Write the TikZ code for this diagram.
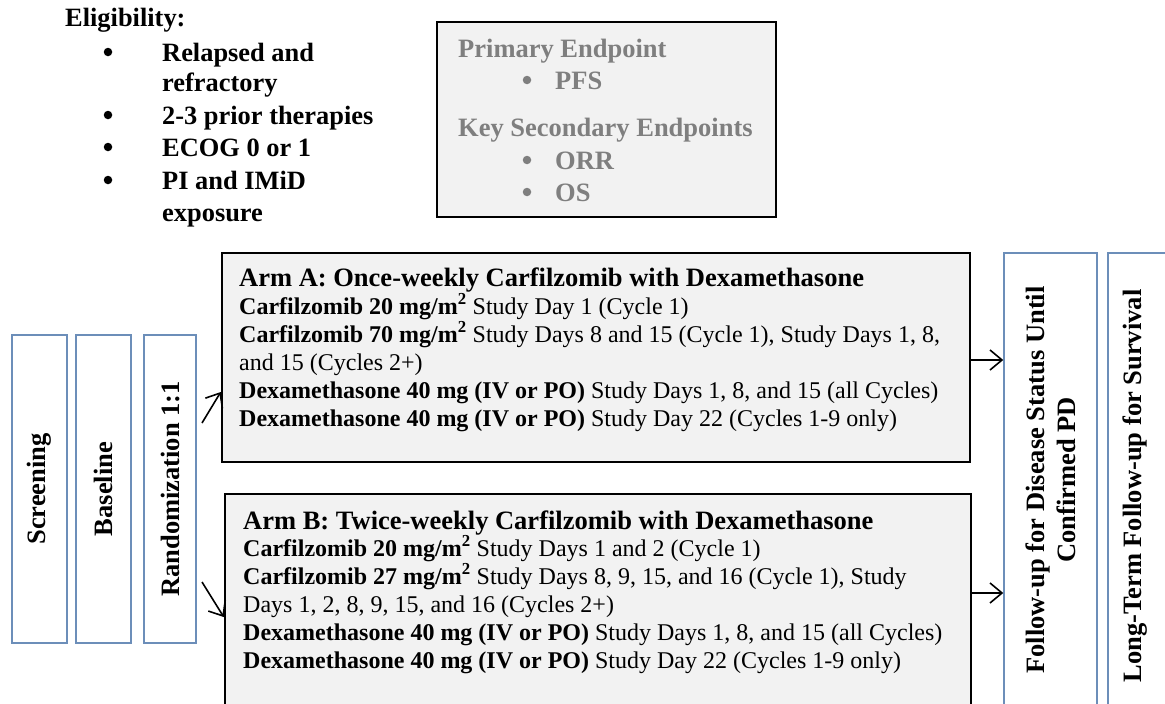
\documentclass[tikz,border=0pt]{standalone}
\usepackage{fontspec}
\setmainfont{Liberation Serif}
\usetikzlibrary{arrows.meta}
\definecolor{bluebox}{RGB}{108,142,185}
\definecolor{armfill}{RGB}{242,242,242}
\definecolor{graytext}{RGB}{127,127,127}
\begin{document}
\begin{tikzpicture}[x=1pt,y=-1pt,
  phase/.style={draw=bluebox, line width=1.5pt, rectangle, inner sep=0pt},
  armbox/.style={draw=black, fill=armfill, line width=2.5pt, rectangle, inner sep=0pt},
  body/.style={anchor=base west, inner sep=0pt, font=\fontsize{24}{28}\selectfont},
  ttl/.style={anchor=base west, inner sep=0pt, font=\bfseries\fontsize{26.5}{30}\selectfont},
  elig/.style={anchor=base west, inner sep=0pt, font=\bfseries\fontsize{26.4}{30}\selectfont},
  endp/.style={anchor=base west, inner sep=0pt, text=graytext, font=\bfseries\fontsize{26.5}{30}\selectfont},
  vlabel/.style={rotate=90, inner sep=0pt, font=\bfseries\fontsize{26.5}{31}\selectfont, align=center},
  bul/.style={circle, inner sep=0pt, minimum size=8.5pt},
  arr/.style={-{Straight Barb[length=12pt,width=20pt]}, line width=1.6pt},
]
\useasboundingbox (0,0) rectangle (1165,704);
\clip (0,0) rectangle (1165,704);

% Eligibility
\node[elig] (eligT) at (65,26) {Eligibility:};
\node[bul, fill=black] (eb1) at (108,52) {};
\node[elig] (e1) at (162,61) {Relapsed and};
\node[elig] (e1b) at (162,91) {refractory};
\node[bul, fill=black] (eb2) at (108,115) {};
\node[elig] (e2) at (162,124) {2-3 prior therapies};
\node[bul, fill=black] (eb3) at (108,147) {};
\node[elig] (e3) at (162,156) {ECOG 0 or 1};
\node[bul, fill=black] (eb4) at (108,180) {};
\node[elig] (e4) at (162,189) {PI and IMiD};
\node[elig] (e4b) at (162,221) {exposure};

% Endpoints box
\node[armbox, line width=2.8pt, minimum width=339pt, minimum height=195pt] (endbox) at (606.5,119.5) {};
\node[endp] (p1) at (458,57) {Primary Endpoint};
\node[bul, fill=graytext] (pb1) at (527,80) {};
\node[endp] (p2) at (555,89) {PFS};
\node[endp] (s1) at (458,136) {Key Secondary Endpoints};
\node[bul, fill=graytext] (sb1) at (527,160) {};
\node[endp] (s2) at (555,169) {ORR};
\node[bul, fill=graytext] (sb2) at (527,192) {};
\node[endp] (s3) at (555,201) {OS};

% Left phase boxes
\node[phase, minimum width=55pt, minimum height=308pt] (scr) at (39.5,489) {};
\node[vlabel] (scrT) at (scr.center) {Screening};
\node[phase, minimum width=55pt, minimum height=308pt] (bas) at (103.5,489) {};
\node[vlabel] (basT) at (bas.center) {Baseline};
\node[phase, minimum width=52pt, minimum height=308pt] (rnd) at (170,489) {};
\node[vlabel] (rndT) at (rnd.center) {Randomization 1:1};

% Arm A
\node[armbox, minimum width=748pt, minimum height=209pt] (armA) at (596,357.5) {};
\node[ttl] (a0) at (239,286) {Arm A: Once-weekly Carfilzomib with Dexamethasone};
\node[body] (a1) at (239,314) {\textbf{Carfilzomib 20 mg/m\textsuperscript{2}} Study Day 1 (Cycle 1)};
\node[body] (a2) at (239,342) {\textbf{Carfilzomib 70 mg/m\textsuperscript{2}} Study Days 8 and 15 (Cycle 1), Study Days 1, 8,};
\node[body] (a3) at (239,370) {and 15 (Cycles 2+)};
\node[body] (a4) at (239,398) {\textbf{Dexamethasone 40 mg (IV or PO)} Study Days 1, 8, and 15 (all Cycles)};
\node[body] (a5) at (239,426) {\textbf{Dexamethasone 40 mg (IV or PO)} Study Day 22 (Cycles 1-9 only)};

% Arm B
\node[armbox, minimum width=746pt, minimum height=212pt] (armB) at (598,600) {};
\node[ttl] (b0) at (243,529) {Arm B: Twice-weekly Carfilzomib with Dexamethasone};
\node[body] (b1) at (243,556) {\textbf{Carfilzomib 20 mg/m\textsuperscript{2}} Study Days 1 and 2 (Cycle 1)};
\node[body] (b2) at (243,584) {\textbf{Carfilzomib 27 mg/m\textsuperscript{2}} Study Days 8, 9, 15, and 16 (Cycle 1), Study};
\node[body] (b3) at (243,612) {Days 1, 2, 8, 9, 15, and 16 (Cycles 2+)};
\node[body] (b4) at (243,640) {\textbf{Dexamethasone 40 mg (IV or PO)} Study Days 1, 8, and 15 (all Cycles)};
\node[body] (b5) at (243,668) {\textbf{Dexamethasone 40 mg (IV or PO)} Study Day 22 (Cycles 1-9 only)};

% Right phase boxes
\node[phase, minimum width=93pt, minimum height=470pt] (fup) at (1050.5,488) {};
\node[vlabel] (fupT) at (1050.5,480) {Follow-up for Disease Status Until\\Confirmed PD};
\node[phase, minimum width=93pt, minimum height=470pt] (ltf) at (1154.5,488) {};
\node[vlabel] (ltfT) at (1135,486) {Long-Term Follow-up for Survival};

% Arrows
\coordinate (ra) at (202,423);
\coordinate (rb) at (202,582);
\draw[arr] (ra) -- (armA.west |- 0,392);
\draw[arr] (rb) -- (armB.west |- 0,617);
\draw[arr] (armA.east |- 0,360) -- (fup.west |- 0,360);
\draw[arr] (armB.east |- 0,593) -- (fup.west |- 0,593);
\end{tikzpicture}
\end{document}
